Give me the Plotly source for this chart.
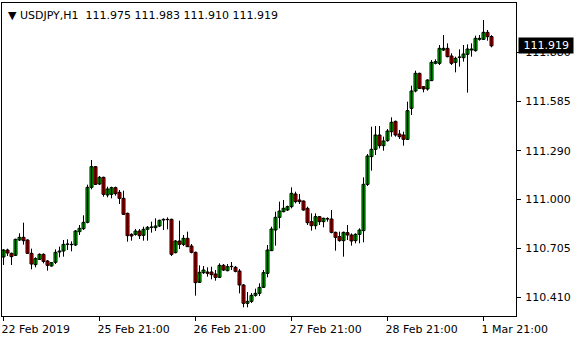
import plotly.graph_objects as go

opens = [110.652,110.694,110.674,110.662,110.754,110.770,110.754,110.674,110.606,110.638,
110.668,110.628,110.598,110.620,110.682,110.688,110.728,110.728,110.724,110.804,
110.822,110.860,111.070,111.194,111.090,111.130,111.024,111.028,111.068,111.040,
111.004,110.914,110.788,110.788,110.808,110.782,110.818,110.830,110.828,110.838,
110.874,110.878,110.878,110.678,110.748,110.728,110.764,110.718,110.680,110.500,
110.558,110.562,110.562,110.550,110.530,110.602,110.570,110.594,110.590,110.568,
110.484,110.374,110.386,110.422,110.434,110.470,110.554,110.690,110.814,110.890,
110.924,110.934,110.954,111.030,110.994,110.988,110.944,110.864,110.840,110.894,
110.864,110.880,110.880,110.800,110.774,110.750,110.798,110.784,110.750,110.788,
110.810,111.088,111.254,111.298,111.384,111.320,111.350,111.404,111.466,111.390,
111.384,111.358,111.544,111.648,111.754,111.674,111.660,111.710,111.814,111.814,
111.894,111.904,111.858,111.820,111.850,111.848,111.868,111.894,111.890,111.958,
111.958,112.000,111.975]

highs = [110.700,110.702,110.678,110.762,110.794,110.858,110.758,110.702,110.650,110.674,
110.674,110.634,110.622,110.698,110.714,110.754,110.758,110.746,110.814,110.844,
110.902,111.086,111.234,111.198,111.138,111.134,111.074,111.074,111.074,111.054,
111.050,110.918,110.794,110.820,110.820,110.834,110.838,110.864,110.884,110.876,
110.884,110.890,110.882,110.754,110.870,110.784,110.804,110.730,110.684,110.602,
110.598,110.590,110.594,110.574,110.614,110.610,110.610,110.622,110.598,110.580,
110.490,110.442,110.436,110.462,110.494,110.574,110.724,110.834,110.924,110.984,
110.994,110.960,111.070,111.044,111.030,110.991,110.954,110.914,110.914,110.898,
110.888,110.890,110.934,110.804,110.804,110.804,110.844,110.794,110.794,110.824,
111.130,111.270,111.434,111.438,111.438,111.374,111.420,111.490,111.470,111.414,
111.404,111.584,111.680,111.770,111.758,111.678,111.718,111.834,111.838,111.924,
111.984,111.934,111.874,111.854,111.898,111.924,111.928,111.934,111.980,111.984,
112.074,112.014,111.983]

lows = [110.604,110.658,110.604,110.658,110.748,110.726,110.670,110.578,110.590,110.634,
110.614,110.570,110.594,110.610,110.650,110.654,110.694,110.686,110.718,110.784,
110.814,110.854,111.058,111.084,111.084,111.014,111.010,111.004,111.020,110.970,
110.904,110.744,110.750,110.780,110.760,110.750,110.750,110.798,110.808,110.832,
110.814,110.818,110.658,110.674,110.700,110.718,110.712,110.674,110.420,110.496,
110.550,110.534,110.518,110.510,110.526,110.568,110.566,110.574,110.560,110.434,
110.350,110.350,110.376,110.414,110.418,110.468,110.530,110.688,110.720,110.824,
110.920,110.928,110.944,110.974,110.970,110.930,110.844,110.810,110.818,110.844,
110.830,110.864,110.794,110.690,110.744,110.654,110.754,110.720,110.734,110.734,
110.740,111.078,111.170,111.264,111.304,111.290,111.344,111.374,111.374,111.360,
111.320,111.354,111.504,111.640,111.660,111.640,111.650,111.708,111.808,111.804,
111.888,111.850,111.804,111.760,111.794,111.824,111.638,111.854,111.884,111.950,
111.954,111.950,111.910]

closes = [110.694,110.676,110.654,110.758,110.770,110.750,110.674,110.610,110.642,110.668,
110.626,110.602,110.618,110.680,110.688,110.728,110.730,110.726,110.808,110.824,
110.860,111.070,111.194,111.088,111.130,111.028,111.060,111.068,111.032,111.004,
110.908,110.780,110.778,110.808,110.780,110.818,110.830,110.832,110.838,110.872,
110.878,110.876,110.668,110.748,110.728,110.764,110.714,110.680,110.498,110.560,
110.574,110.554,110.546,110.530,110.602,110.574,110.594,110.596,110.566,110.484,
110.374,110.386,110.422,110.434,110.470,110.558,110.694,110.820,110.890,110.928,
110.944,110.954,111.034,110.984,110.984,110.934,110.858,110.840,110.894,110.864,
110.884,110.882,110.800,110.770,110.750,110.800,110.784,110.748,110.788,110.814,
111.088,111.258,111.298,111.384,111.320,111.348,111.408,111.460,111.384,111.374,
111.358,111.530,111.648,111.754,111.664,111.660,111.714,111.820,111.824,111.904,
111.904,111.854,111.814,111.844,111.852,111.870,111.900,111.900,111.964,111.964,
112.000,111.974,111.919]

bars = list(range(len(closes)))

x_tick_bars = [0, 24, 48, 72, 96, 120]
x_tick_text = ["22 Feb 2019", "25 Feb 21:00", "26 Feb 21:00", "27 Feb 21:00",
               "28 Feb 21:00", "1 Mar 21:00"]
y_tick_vals = [110.410, 110.705, 111.000, 111.290, 111.585, 111.880]
y_tick_text = ["110.410", "110.705", "111.000", "111.290", "111.585", "111.880"]

symbol = "USDJPY,H1"
last_bar = "111.975 111.983 111.910 111.919"
last_price = 111.919

FONT = "DejaVu Sans"
UP = "#00dc00"
DOWN = "#e60000"

# wicks (high-low lines), drawn behind bodies
wx, wy = [], []
for i, h, l in zip(bars, highs, lows):
    wx += [i, i, None]
    wy += [l, h, None]

# bodies
body_base = [min(o, c) for o, c in zip(opens, closes)]
body_len = [max(abs(c - o), 0.0012) for o, c in zip(opens, closes)]
body_col = [UP if c >= o else DOWN for o, c in zip(opens, closes)]

fig = go.Figure()
fig.add_trace(go.Scatter(
    x=wx, y=wy, mode="lines", line=dict(color="black", width=1),
    hoverinfo="skip", showlegend=False, connectgaps=False,
))
fig.add_trace(go.Bar(
    x=bars, y=body_len, base=body_base, width=0.75,
    marker=dict(color=body_col, line=dict(color="black", width=1)),
    hoverinfo="skip", showlegend=False,
))

fig.update_layout(
    width=580, height=340,
    margin=dict(l=2, r=64, t=3, b=24),
    paper_bgcolor="white", plot_bgcolor="white",
    font=dict(family=FONT, size=11, color="black"),
    showlegend=False, barmode="overlay",
    xaxis=dict(
        range=[-0.375, 128.125],
        tickmode="array", tickvals=x_tick_bars, ticktext=x_tick_text,
        ticks="outside", ticklen=4, tickcolor="black", tickwidth=1,
        ticklabelposition="outside right", ticklabelshift=-3, ticklabelstandoff=3,
        showline=True, linecolor="black", linewidth=1, mirror=True,
        showgrid=False, zeroline=False, fixedrange=True,
        tickfont=dict(family=FONT, size=11, color="black"),
    ),
    yaxis=dict(
        range=[110.298, 112.176], side="right",
        tickmode="array", tickvals=y_tick_vals, ticktext=y_tick_text,
        ticks="outside", ticklen=4, tickcolor="black", tickwidth=1,
        ticklabelstandoff=2,
        showline=True, linecolor="black", linewidth=1, mirror=True,
        showgrid=False, zeroline=False, fixedrange=True,
        tickfont=dict(family=FONT, size=11, color="black"),
    ),
)

fig.add_annotation(
    xref="paper", yref="paper", x=0.0, y=1.0, xshift=4, yshift=-4,
    xanchor="left", yanchor="top", showarrow=False,
    text="\u25bc " + symbol + "  " + last_bar,
    font=dict(family=FONT, size=11, color="black"),
)
fig.add_annotation(
    xref="paper", yref="y", x=1.0, y=last_price, xshift=2,
    xanchor="left", yanchor="middle", showarrow=False,
    text="\u00a0" + f"{last_price:.3f}" + "\u00a0", bgcolor="black", borderpad=1,
    font=dict(family=FONT, size=11, color="white"),
)

fig.write_html("out.html", config=dict(displayModeBar=False, staticPlot=True))
